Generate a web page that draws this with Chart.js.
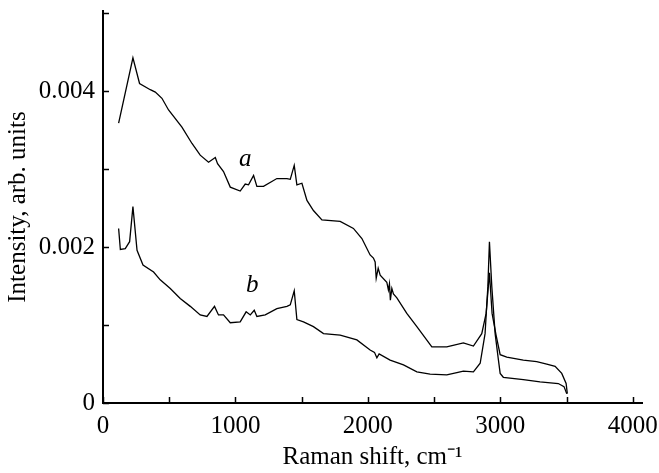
<!DOCTYPE html>
<html>
<head>
<meta charset="utf-8">
<script src="https://cdn.jsdelivr.net/npm/chart.js@4"></script>
<style>
  html, body { margin: 0; padding: 0; background: #fff; }
  #wrap { width: 659px; height: 473px; }
</style>
</head>
<body>
<div id="wrap"><canvas id="ramanChart" width="659" height="473"></canvas></div>
<script>
'use strict';

// ------------------ data ------------------
const aShift = [118, 226, 276, 357, 395, 445, 495, 596, 672, 734, 797, 848, 865, 910, 961, 1036, 1074, 1099, 1137, 1162,
  1212, 1313, 1389, 1414, 1444, 1464, 1502, 1540, 1589, 1653, 1791, 1891, 1955, 2017, 2042, 2055, 2063, 2078, 2093, 2143,
  2155, 2163, 2170, 2181, 2193, 2219, 2294, 2370, 2483, 2596, 2721, 2797, 2860, 2893, 2918, 2938, 2968, 2999, 3049, 3174,
  3275, 3351, 3414, 3464, 3497, 3506];
const aIntensity = [0.00359, 0.00443, 0.00410, 0.00402, 0.00399, 0.00391, 0.00376, 0.00354, 0.00333, 0.00318, 0.00309, 0.00315, 0.00307, 0.00297, 0.00277, 0.00272, 0.00281, 0.00280, 0.00292, 0.00278,
  0.00278, 0.00288, 0.00288, 0.00287, 0.00305, 0.00280, 0.00282, 0.00260, 0.00247, 0.00235, 0.00233, 0.00224, 0.00211, 0.00190, 0.00186, 0.00181, 0.00160, 0.00173, 0.00164, 0.00155,
  0.00145, 0.00153, 0.00132, 0.00147, 0.00140, 0.00135, 0.00115, 0.00098, 0.00072, 0.00072, 0.00077, 0.00073, 0.00089, 0.00115, 0.00167, 0.00115, 0.00087, 0.00062, 0.00059, 0.00055,
  0.00053, 0.00050, 0.00047, 0.00038, 0.00025, 0.00012];

const bShift = [118, 131, 168, 201, 226, 257, 302, 382, 432, 508, 583, 659, 734, 785, 842, 872, 910, 961, 1036, 1081,
  1112, 1142, 1162, 1225, 1313, 1389, 1414, 1444, 1464, 1514, 1589, 1665, 1791, 1917, 2017, 2050, 2068, 2085, 2168, 2269,
  2370, 2470, 2596, 2672, 2721, 2797, 2848, 2885, 2906, 2918, 2936, 2961, 2986, 2999, 3023, 3174, 3300, 3438, 3481, 3502];
const bIntensity = [0.00224, 0.00197, 0.00198, 0.00207, 0.00252, 0.00196, 0.00177, 0.00168, 0.00158, 0.00147, 0.00134, 0.00124, 0.00113, 0.00111, 0.00124, 0.00113, 0.00113, 0.00103, 0.00104, 0.00117,
  0.00113, 0.00119, 0.00111, 0.00113, 0.00121, 0.00124, 0.00126, 0.00144, 0.00107, 0.00104, 0.00098, 0.00089, 0.00087, 0.00081, 0.00068, 0.00065, 0.00058, 0.00063, 0.00055, 0.00049,
  0.00040, 0.00037, 0.00036, 0.00039, 0.00041, 0.00040, 0.00051, 0.00089, 0.00149, 0.00207, 0.00149, 0.00089, 0.00055, 0.00038, 0.00033, 0.00030, 0.00027, 0.00025, 0.00021, 0.00012];

const xTicks = [0, 500, 1000, 1500, 2000, 2500, 3000, 3500, 4000];
const xTickLabels = ['0', '', '1000', '', '2000', '', '3000', '', '4000'];
const yTicks = [0, 0.001, 0.002, 0.003, 0.004, 0.005];
const yTickLabels = ['0', '', '0.002', '', '0.004', ''];

// curve letters: [text, shift, intensity]
const curveLabels = [['a', 1074, 0.00312], ['b', 1127, 0.00151]];

// ------------------ helpers ------------------
const serif = 'Liberation Serif, Times New Roman, serif';

function toPoints(xs, ys) {
  const pts = [];
  for (let i = 0; i < xs.length; i++) {
    pts.push({ x: xs[i], y: ys[i] });
  }
  return pts;
}

// inward tick marks + curve letters
const decorPlugin = {
  id: 'decor',
  afterDatasetsDraw(chart) {
    const ctx = chart.ctx;
    const xs = chart.scales.x;
    const ys = chart.scales.y;
    const area = chart.chartArea;
    ctx.save();
    ctx.strokeStyle = '#000';
    ctx.lineWidth = 1.5;
    ctx.beginPath();
    for (let v of xTicks) {
      const px = Math.round(xs.getPixelForValue(v)) + 0.5;
      ctx.moveTo(px, area.bottom);
      ctx.lineTo(px, area.bottom - 6);
    }
    for (let v of yTicks) {
      const py = Math.round(ys.getPixelForValue(v)) + 0.5;
      ctx.moveTo(area.left, py);
      ctx.lineTo(area.left + 6, py);
    }
    ctx.stroke();

    ctx.fillStyle = '#000';
    ctx.font = 'italic 25px ' + serif;
    ctx.textAlign = 'center';
    ctx.textBaseline = 'middle';
    for (let lab of curveLabels) {
      ctx.fillText(lab[0], xs.getPixelForValue(lab[1]), ys.getPixelForValue(lab[2]));
    }
    ctx.restore();
  }
};

// ------------------ chart ------------------
const chartCtx = document.getElementById('ramanChart').getContext('2d');
const ramanChart = new Chart(chartCtx, {
  type: 'line',
  data: {
    datasets: [{
      label: 'a',
      data: toPoints(aShift, aIntensity),
      borderColor: '#000',
      borderWidth: 1.3,
      pointRadius: 0,
      tension: 0,
      fill: false
    }, {
      label: 'b',
      data: toPoints(bShift, bIntensity),
      borderColor: '#000',
      borderWidth: 1.3,
      pointRadius: 0,
      tension: 0,
      fill: false
    }]
  },
  options: {
    responsive: false,
    animation: false,
    events: [],
    layout: { padding: { top: 11, right: 17, left: 0, bottom: 0 } },
    plugins: {
      legend: { display: false },
      tooltip: { enabled: false }
    },
    scales: {
      x: {
        type: 'linear',
        min: 0,
        max: 4070,
        grid: { display: false, drawTicks: false },
        border: { display: true, color: '#000', width: 2 },
        afterBuildTicks: (scale) => { scale.ticks = xTicks.map(v => ({ value: v })); },
        afterFit: (scale) => { scale.height = 70; scale.paddingLeft = 0; scale.paddingRight = 0; },
        ticks: {
          autoSkip: false,
          maxRotation: 0,
          padding: 8,
          color: '#000',
          font: { family: serif, size: 25 },
          callback: (value, index) => xTickLabels[index]
        },
        title: {
          display: true,
          text: 'Raman shift, cm\u207B\u00B9',
          color: '#000',
          font: { family: serif, size: 25 },
          padding: { top: 0, bottom: 1 }
        }
      },
      y: {
        type: 'linear',
        min: 0,
        max: 0.00503,
        grid: { display: false, drawTicks: false },
        border: { display: true, color: '#000', width: 2 },
        afterBuildTicks: (scale) => { scale.ticks = yTicks.map(v => ({ value: v })); },
        afterFit: (scale) => { scale.width = 103; scale.paddingTop = 0; scale.paddingBottom = 0; },
        ticks: {
          autoSkip: false,
          padding: 8,
          color: '#000',
          font: { family: serif, size: 25 },
          callback: (value, index) => yTickLabels[index]
        },
        title: {
          display: true,
          text: 'Intensity, arb. units',
          color: '#000',
          font: { family: serif, size: 25 },
          padding: { top: 3, bottom: 0 }
        }
      }
    }
  },
  plugins: [decorPlugin]
});
</script>
</body>
</html>
